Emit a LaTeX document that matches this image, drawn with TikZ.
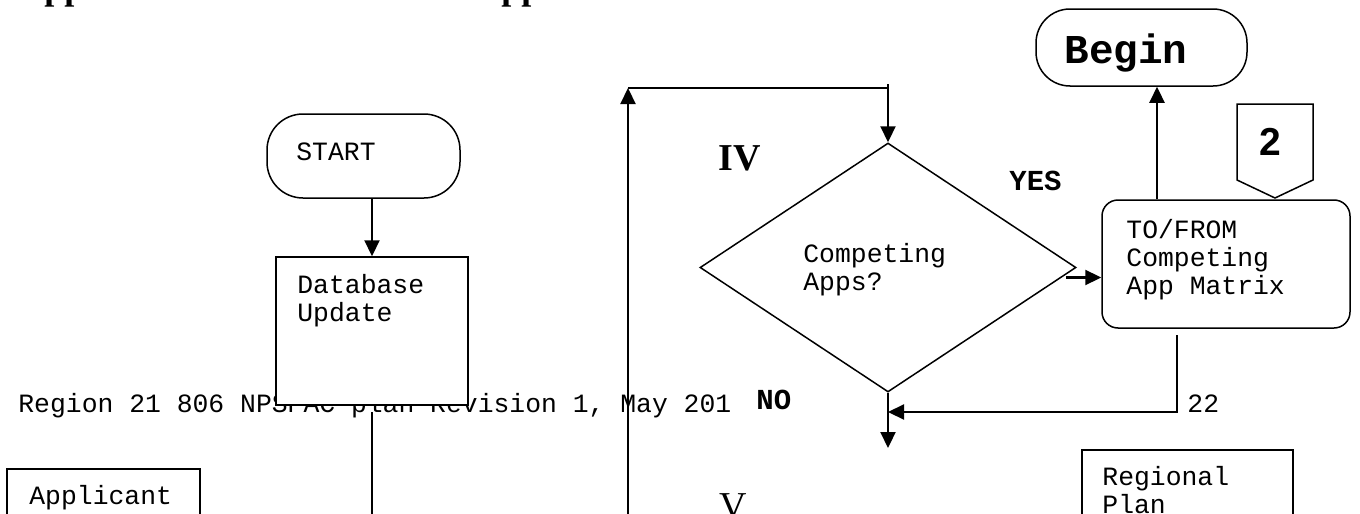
\documentclass[tikz,border=0pt]{standalone}
\usepackage{fontspec}
\setmainfont{Liberation Serif}
\setsansfont{Liberation Sans}
\setmonofont{Liberation Mono}
\usetikzlibrary{arrows.meta,positioning,shapes.geometric}
\newcommand{\flowfont}{\ttfamily\fontsize{13.2}{14}\selectfont}
\newcommand{\flowbold}{\ttfamily\bfseries\fontsize{14.5}{16}\selectfont}

\begin{document}
\begin{tikzpicture}[
  x=0.5pt, y=-0.5pt,
  box/.style={draw, line width=0.75pt, fill=white, inner sep=0pt},
  terminal/.style={box, rounded corners=18pt},
  boxtext/.style={anchor=north west, inner sep=0pt, align=left, font=\flowfont},
  plain/.style={anchor=base west, inner sep=0pt},
  arrow/.style={-{Triangle[length=8pt, width=7.5pt]}, line width=1.1pt},
  link/.style={line width=1.1pt}
]
\useasboundingbox (0,0) rectangle (1360,514);

% heading, cut by the page edge
\node[plain, font=\bfseries\fontsize{18}{20}\selectfont] (headA) at (18,-1) {Appendix};
\node[plain, font=\bfseries\fontsize{18}{20}\selectfont] (headB) at (475,-1) {Application};

% footer line and loose labels
\node[plain, font=\flowfont] (footer) at (18,412) {Region 21 806 NPSPAC plan Revision 1, May 201};
\node[plain, font=\flowbold] (no) at (756,409) {NO};
\node[plain, font=\flowfont] (page) at (1187,412) {22};
\node[plain, font=\flowbold] (yes) at (1009,190) {YES};
\node[plain, font=\bfseries\fontsize{19}{20}\selectfont] (four) at (718,170) {IV};
\node[plain, font=\fontsize{19}{20}\selectfont] (five) at (719,518) {V};

% left column
\node[terminal, minimum width=96.5pt, minimum height=42pt] (start) at (363.5,156) {};
\node[boxtext] (starttext) at (296,142) {START};
\node[box, minimum width=96pt, minimum height=74pt] (db) at (372,331) {};
\node[boxtext] (dbtext) at (297,274) {Database\\Update};
\node[box, minimum width=96.5pt, minimum height=40pt] (appl) at (103.5,509) {};
\node[boxtext] (appltext) at (29,485) {Applicant};

% decision
\node[box, diamond, minimum width=188pt, minimum height=124.5pt] (apps) at (888,267.5) {};
\node[boxtext] (appstext) at (803,243) {Competing\\Apps?};

% right column
\node[terminal, rounded corners=17pt, minimum width=105.5pt, minimum height=38.5pt] (begin) at (1141.5,47.5) {};
\node[plain, font=\ttfamily\bfseries\fontsize{20.5}{22}\selectfont] (begintext) at (1064,63) {Begin};
\draw[line width=0.75pt, fill=white] (1237,104) -- (1313,104) -- (1313,180) -- (1275,198) -- (1237,180) -- cycle;
\node[anchor=base, inner sep=0pt, font=\sffamily\bfseries\fontsize{19.5}{20}\selectfont] (two) at (1270,155) {2};
\node[box, rounded corners=8pt, minimum width=124pt, minimum height=64pt] (tofrom) at (1226,264) {};
\node[boxtext] (tftext) at (1126,219) {TO/FROM\\Competing\\App Matrix};
\node[box, minimum width=105.5pt, minimum height=40pt] (plan) at (1187.5,490) {};
\node[boxtext] (plantext) at (1102,466) {Regional\\Plan};

% connectors
\draw[arrow] (start.south -| db.north) -- (db.north);
\coordinate (dbfoot) at (372,412);
\draw[link] (dbfoot) -- (dbfoot |- 0,514);

\coordinate (loopfoot) at (628,514);
\coordinate (loopcorner) at (628,88);
\draw[arrow] (loopfoot) -- (loopcorner);
\draw[link] (loopcorner) -- (loopcorner -| apps.north);
\draw[arrow] ([yshift=2pt]loopcorner -| apps.north) -- (apps.north);

\draw[arrow] ([shift={(-5.5pt,-5pt)}]apps.east) coordinate (yesfrom) -- (yesfrom -| tofrom.west);
\draw[arrow] (tofrom.north -| 1157,0) -- (begin.south -| 1157,0);

\coordinate (tfdown) at (1177,335);
\draw[arrow] (tfdown) |- (apps.south |- 0,412);
\draw[arrow] (apps.south) -- (apps.south |- 0,448);
\end{tikzpicture}
\end{document}
